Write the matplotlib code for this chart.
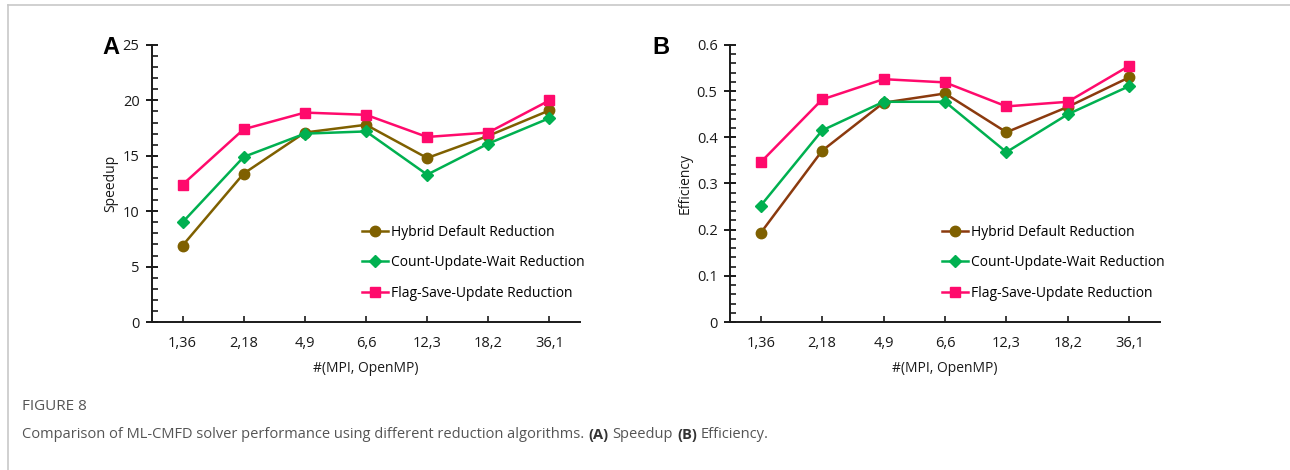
import matplotlib
matplotlib.use("Agg")
import matplotlib.pyplot as plt
from matplotlib.lines import Line2D
from matplotlib.ticker import MultipleLocator, FuncFormatter

categories = ["1,36", "2,18", "4,9", "6,6", "12,3", "18,2", "36,1"]
series_names = ["Hybrid Default Reduction", "Count-Update-Wait Reduction", "Flag-Save-Update Reduction"]

speedup_hybrid = [6.9, 13.4, 17.1, 17.8, 14.8, 16.8, 19.1]
speedup_cuw = [9.0, 14.9, 17.0, 17.2, 13.3, 16.1, 18.4]
speedup_fsu = [12.4, 17.4, 18.9, 18.7, 16.7, 17.1, 20.0]

eff_hybrid = [0.193, 0.371, 0.475, 0.495, 0.411, 0.466, 0.530]
eff_cuw = [0.252, 0.415, 0.477, 0.477, 0.368, 0.450, 0.511]
eff_fsu = [0.346, 0.482, 0.526, 0.519, 0.467, 0.477, 0.555]

plt.rcParams['font.family'] = ['Open Sans', 'DejaVu Sans']

W, H = 1290, 470
fig = plt.figure(figsize=(W / 100, H / 100), dpi=100)

# card border
fig.add_artist(Line2D([8 / W, 8 / W], [0, 1 - 5 / H], color="#c8c8c8", lw=1.2))
fig.add_artist(Line2D([8 / W, 1], [1 - 5 / H, 1 - 5 / H], color="#c8c8c8", lw=1.2))

BROWN_A = "#7f6000"
BROWN_B_LINE = "#8b3a0e"
BROWN_MK = "#7f6000"
GREEN = "#00b050"
PINK = "#ff0a6c"


def make_panel(left_px, right_px, yvals, ymax, ymajor, yminor, ylabel, letter, letter_x,
               hybrid_line_color, leg_x_px):
    ax = fig.add_axes([left_px / W, 1 - 322 / H, (right_px - left_px) / W, (322 - 45) / H])
    x = list(range(len(categories)))
    styles = [
        (hybrid_line_color, BROWN_MK, "o", 7.5),
        (GREEN, GREEN, "D", 6),
        (PINK, PINK, "s", 7.5),
    ]
    handles = []
    for vals, (lc, mc, mk, ms), name in zip(yvals, styles, series_names):
        h, = ax.plot(x, vals, color=lc, lw=1.8, marker=mk, ms=ms,
                     markerfacecolor=mc, markeredgecolor=mc, label=name)
        handles.append(h)
    ax.set_xlim(-0.5, len(categories) - 0.5)
    ax.set_ylim(0, ymax)
    ax.set_xticks(x)
    ax.set_xticklabels(categories)
    ax.yaxis.set_major_locator(MultipleLocator(ymajor))
    ax.yaxis.set_minor_locator(MultipleLocator(yminor))
    if ymajor < 1:
        ax.yaxis.set_major_formatter(FuncFormatter(lambda v, p: "0" if abs(v) < 1e-9 else f"{v:.1f}"))
    for s in ["top", "right"]:
        ax.spines[s].set_visible(False)
    for s in ["left", "bottom"]:
        ax.spines[s].set_linewidth(1.4)
        ax.spines[s].set_color("#1a1a1a")
    ax.tick_params(axis="y", which="major", direction="inout", length=8, width=1.4, labelsize=10.5, pad=5, colors="#1a1a1a")
    ax.tick_params(axis="y", which="minor", direction="in", length=4, width=1.2, colors="#1a1a1a")
    ax.tick_params(axis="x", which="major", direction="in", length=4, width=1.2, labelsize=10.5, pad=10, colors="#1a1a1a")
    ax.set_ylabel(ylabel, fontsize=10, labelpad=3, color="#1a1a1a")
    ax.set_xlabel("#(MPI, OpenMP)", fontsize=10, labelpad=7, color="#1a1a1a")
    ax.legend(handles=handles, loc="upper left",
              bbox_to_anchor=((leg_x_px - left_px) / (right_px - left_px), (322 - 225) / (322 - 45)),
              frameon=False, fontsize=10, handlelength=1.9, handletextpad=0.2,
              labelspacing=1.1, borderaxespad=0, borderpad=0)
    fig.text(letter_x / W, 1 - 48 / H, letter, fontsize=17, fontweight="bold",
             ha="center", va="center", family=["Liberation Sans", "DejaVu Sans"])
    return ax


make_panel(152, 580, [speedup_hybrid, speedup_cuw, speedup_fsu], 25, 5, 1,
           "Speedup", "A", 111, BROWN_A, 362)
make_panel(730, 1160, [eff_hybrid, eff_cuw, eff_fsu], 0.6, 0.1, 0.02,
           "Efficiency", "B", 661, BROWN_B_LINE, 942)

fig.text(22 / W, 1 - 407 / H, "FIGURE 8", fontsize=11, color="#555555", va="center", ha="left")
fig.text(22 / W, 1 - 435 / H,
         "Comparison of ML-CMFD solver performance using different reduction algorithms.",
         fontsize=10.5, color="#555555", va="center", ha="left")
fig.canvas.draw()
pieces = [("(A)", True), ("Speedup", False), ("(B)", True), ("Efficiency.", False)]
prev = fig.texts[-1]
for txt, bold in pieces:
    bb = prev.get_window_extent()
    prev = fig.text(bb.x1 / W + 4 / W, 1 - 435 / H, txt, fontsize=10.5,
                    color="#333333" if bold else "#555555",
                    fontweight="bold" if bold else "normal", va="center", ha="left")
    fig.canvas.draw()

fig.savefig("out.png", dpi=100)
